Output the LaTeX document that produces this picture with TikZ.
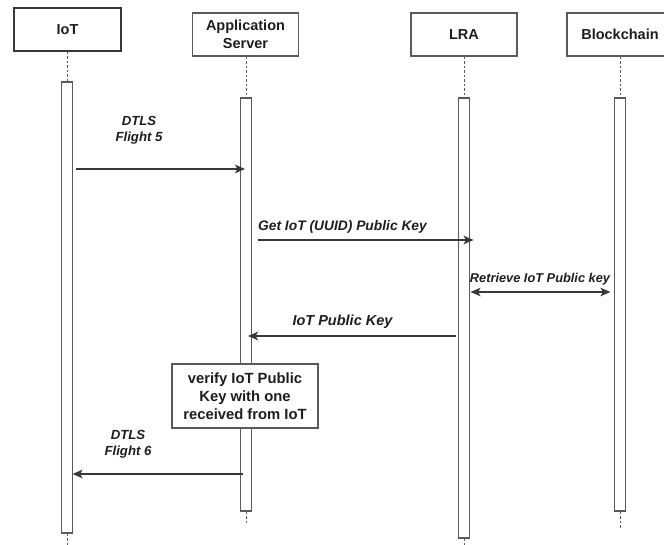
\documentclass[tikz,border=0pt]{standalone}
\usepackage{fontspec}
\setmainfont{Liberation Sans}
\usetikzlibrary{arrows.meta}
\definecolor{ln}{HTML}{383838}
\definecolor{bx}{HTML}{5A5A5A}
\definecolor{tx}{HTML}{1E1E1E}
\begin{document}
\begin{tikzpicture}[x=1pt,y=-1pt,
 head/.style={draw=bx,line width=1.3pt,minimum width=106pt,minimum height=43pt,inner sep=0pt,align=center,font=\bfseries\fontsize{14.5}{18}\selectfont,text=tx},
 bar/.style={draw=bx,line width=1.1pt,minimum width=11pt,inner sep=0pt,fill=white},
 life/.style={draw=bx,line width=1pt,dash pattern=on 2.5pt off 2pt},
 tip/.style={Stealth[length=10pt,width=8.5pt,inset=2.5pt]},
 msg/.style={draw=ln,line width=1.3pt,-{Stealth[length=10pt,width=8.5pt,inset=2.5pt]}},
 lbl/.style={font=\bfseries\itshape\fontsize{13.2}{15.5}\selectfont,text=tx,align=center,inner sep=0pt},
 note/.style={draw=bx,line width=1.3pt,fill=white,minimum width=146pt,minimum height=64pt,inner sep=0pt,align=center,font=\bfseries\fontsize{14.8}{18}\selectfont,text=tx},
]
\useasboundingbox (0,0) rectangle (664,545);

% headers
\node[head,line width=1.7pt,draw=ln,minimum width=107pt] (iot) at (67.5,29.5) {IoT};
\node[head] (as) at (245.5,34.5) {Application\\Server};
\node[head] (lra) at (464,34.5) {LRA};
\node[head] (bc) at (620,34.5) {Blockchain};

% activation bars
\node[bar,minimum height=451pt] (iotbar) at (67,307.5) {};
\node[bar,minimum height=413pt] (asbar) at (246,304.5) {};
\node[bar,minimum height=440pt] (lrabar) at (464,318) {};
\node[bar,minimum height=413pt] (bcbar) at (620,304.5) {};

% lifeline ends
\coordinate (iotend) at (67,545);
\coordinate (asend) at (246,524);
\coordinate (lraend) at (464,545);
\coordinate (bcend) at (620,528);

\draw[life] (iot.south -| iotbar.north) -- (iotbar.north);
\draw[life] (as.south -| asbar.north) -- (asbar.north);
\draw[life] (lra.south -| lrabar.north) -- (lrabar.north);
\draw[life] (bc.south -| bcbar.north) -- (bcbar.north);
\draw[life] (iotbar.south) -- (iotend);
\draw[life] (asbar.south) -- (asend);
\draw[life] (lrabar.south) -- (lraend);
\draw[life] (bcbar.south) -- (bcend);

% message levels
\coordinate (y1) at (0,169);
\coordinate (y2) at (0,240);
\coordinate (y3) at (0,292);
\coordinate (y4) at (0,336);
\coordinate (y5) at (0,474);

% messages
\draw[msg] ([xshift=3pt]iotbar.east |- y1) -- ([xshift=-1pt]asbar.center |- y1);
\node[lbl] (l1) at (139,130.5) {DTLS\\Flight 5};

\draw[msg] ([xshift=5.5pt]asbar.east |- y2) -- ([xshift=3.5pt]lrabar.east |- y2);
\node[lbl,font=\bfseries\itshape\fontsize{13.8}{16}\selectfont] (l2) at (342.5,227) {Get IoT (UUID) Public Key};

\draw[draw=ln,line width=1.3pt,{Stealth[length=10pt,width=8.5pt,inset=2.5pt]}-{Stealth[length=10pt,width=8.5pt,inset=2.5pt]}] ([xshift=0.5pt]lrabar.east |- y3) -- ([xshift=-3.5pt]bcbar.west |- y3);
\node[lbl,font=\bfseries\itshape\fontsize{12.8}{15}\selectfont] (l3) at (540,279) {Retrieve IoT Public key};

\draw[msg] ([xshift=-1.5pt]lrabar.west |- y4) -- ([xshift=2pt]asbar.center |- y4);
\node[lbl,font=\bfseries\itshape\fontsize{14.5}{16}\selectfont] (l4) at (342.5,322) {IoT Public Key};

\node[note] (verify) at (245,396) {verify IoT Public\\Key with one\\received from IoT};

\draw[msg] ([xshift=-3pt]asbar.center |- y5) -- ([xshift=-0.5pt]iotbar.east |- y5);
\node[lbl,font=\bfseries\itshape\fontsize{13.2}{16}\selectfont] (l5) at (128,444) {DTLS\\Flight 6};
\end{tikzpicture}
\end{document}
